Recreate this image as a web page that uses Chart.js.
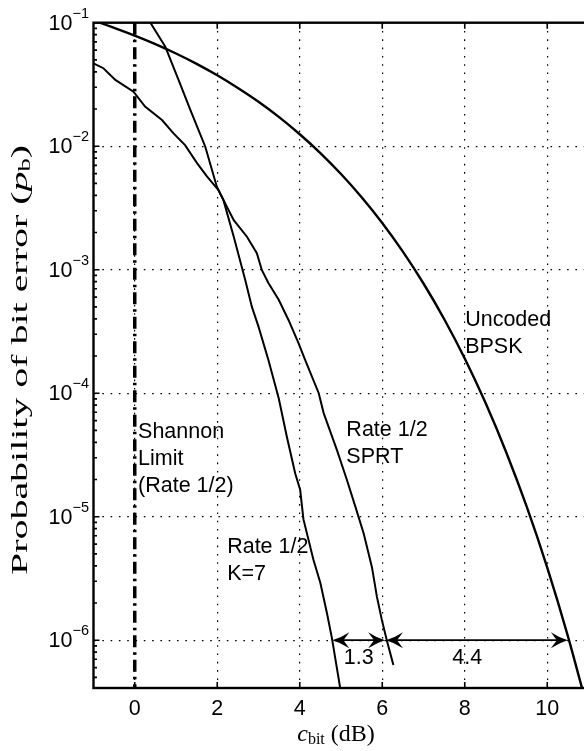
<!DOCTYPE html>
<html>
<head>
<meta charset="utf-8">
<script src="https://cdn.jsdelivr.net/npm/chart.js@4.4.1/dist/chart.umd.min.js"></script>
<style>
  html, body { margin: 0; padding: 0; background: #fff; overflow: hidden; }
  #wrap { position: relative; width: 600px; height: 751px; }
</style>
</head>
<body>
<div id="wrap"><canvas id="chart" width="600" height="751"></canvas></div>
<script>
// tick values
const xTicks = [0, 2, 4, 6, 8, 10];
const yTicks = [1e-6, 1e-5, 1e-4, 1e-3, 1e-2, 1e-1];

// uncoded BPSK (dB, Pb)
const bpskX = [-1, -0.5, 0, 0.5, 1, 1.5, 2, 2.5, 3, 3.5, 4, 4.5, 5, 5.5, 6, 6.5, 7, 7.5, 8, 8.5, 9, 9.5, 10, 10.5, 11];
const bpskY = [0.104, 0.0909, 0.0786, 0.0671, 0.0563, 0.0464, 0.0375, 0.0296, 0.0229, 0.0172, 0.0125, 0.0088, 0.00595, 0.00386,
  0.00239, 0.0014, 7.73e-4, 3.99e-4, 1.91e-4, 8.4e-5, 3.36e-5, 1.21e-5, 3.87e-6, 1.08e-6, 2.6e-7];

// rate 1/2, K=7
const k7X = [0.38, 0.74, 1.10, 1.35, 1.71, 1.99, 2.15, 2.40, 2.68, 2.84, 3.00, 3.24, 3.49, 3.69, 3.89, 4.01, 4.09, 4.33, 4.50, 4.66, 4.78, 4.98];
const k7Y = [0.1, 0.064, 0.032, 0.0196, 9.9e-3, 4.7e-3, 3.66e-3, 1.85e-3, 8.2e-4, 5.0e-4, 3.46e-4, 1.86e-4, 9.1e-5, 4.4e-5,
  2.24e-5, 1.65e-5, 9.5e-6, 4.5e-6, 2.9e-6, 1.65e-6, 1.04e-6, 4.1e-7];

// rate 1/2, SPRT
const sprtX = [-1, -0.76, -0.47, -0.03, 0.25, 0.66, 0.94, 1.22, 1.51, 1.75, 2.03, 2.40, 2.72, 2.96, 3.08, 3.24, 3.49, 3.73, 3.97,
  4.13, 4.46, 4.58, 4.90, 5.14, 5.35, 5.55, 5.75, 5.87, 5.99, 6.11, 6.27];
const sprtY = [0.0469, 0.0428, 0.0344, 0.0276, 0.0209, 0.0163, 0.0127, 0.0102, 7.3e-3, 5.7e-3, 4.4e-3, 2.52e-3, 1.85e-3, 1.36e-3,
  9.95e-4, 7.8e-4, 5.7e-4, 3.9e-4, 2.54e-4, 1.86e-4, 1.0e-4, 6.9e-5, 3.47e-5, 2.0e-5, 1.2e-5, 7.3e-6, 3.9e-6, 2.25e-6, 1.46e-6,
  1.0e-6, 6.3e-7];

// Shannon limit (rate 1/2)
const shannonX = [0, 0];
const shannonY = [0.1, 4.1e-7];

// gap arrows at Pb = 1e-6
const arrowLevel = 1e-6;
const arrowFrom = [4.79, 6.09];
const arrowTo = [6.07, 10.5];
const arrowLabels = ['1.3', '4.4'];

const yMin = 4.1e-7, yMax = 0.1;
const xMin = -1, xMax = 11;

const pts = (xs, ys) => xs.map((v, i) => ({ x: v, y: ys[i] }));

const SANS = '"Liberation Sans", Arial, sans-serif';
const SERIF = '"Liberation Serif", "Times New Roman", serif';

function arrowHead(ctx, tipX, tipY, dir) {
  // dir = -1 points left, +1 points right
  const L = 17, W = 8;
  ctx.beginPath();
  ctx.moveTo(tipX, tipY);
  ctx.quadraticCurveTo(tipX - dir * L * 0.5, tipY - W * 0.3, tipX - dir * L, tipY - W);
  ctx.lineTo(tipX - dir * L * 0.65, tipY);
  ctx.lineTo(tipX - dir * L, tipY + W);
  ctx.quadraticCurveTo(tipX - dir * L * 0.5, tipY + W * 0.3, tipX, tipY);
  ctx.closePath();
  ctx.fill();
}

// draw a run of text pieces centred on (cx, cy), widened to `span` px if given
function drawPieces(ctx, pieces, cx, cy, span) {
  let total = 0;
  pieces.forEach(p => { ctx.font = p.font; p.w = ctx.measureText(p.t).width; total += p.w; });
  const k = span ? span / total : 1;
  ctx.save();
  ctx.translate(cx, cy);
  ctx.scale(k, 1);
  let xx = -total / 2;
  pieces.forEach(p => {
    ctx.font = p.font;
    ctx.fillText(p.t, xx, p.dy || 0);
    xx += p.w;
  });
  ctx.restore();
}

const decor = {
  id: 'decor',
  afterDraw(chart) {
    const { ctx, chartArea: a, scales: { x, y } } = chart;
    ctx.save();
    ctx.strokeStyle = '#000';
    ctx.fillStyle = '#000';

    // frame
    ctx.lineWidth = 2.4;
    ctx.strokeRect(a.left, a.top, a.right - a.left, a.bottom - a.top);

    // inward tick marks
    ctx.lineWidth = 1.6;
    ctx.beginPath();
    xTicks.forEach(v => {
      const px = x.getPixelForValue(v);
      ctx.moveTo(px, a.bottom); ctx.lineTo(px, a.bottom - 6);
      ctx.moveTo(px, a.top); ctx.lineTo(px, a.top + 6);
    });
    yTicks.forEach(v => {
      const py = y.getPixelForValue(v);
      ctx.moveTo(a.left, py); ctx.lineTo(a.left + 6, py);
    });
    for (let e = -7; e < -1; e++) {
      for (let k = 2; k < 10; k++) {
        const v = k * Math.pow(10, e);
        if (v < yMin || v > yMax) continue;
        const py = y.getPixelForValue(v);
        ctx.moveTo(a.left, py); ctx.lineTo(a.left + 3.5, py);
      }
    }
    ctx.stroke();

    // x tick labels
    ctx.font = '21.5px ' + SANS;
    ctx.textAlign = 'center';
    ctx.textBaseline = 'middle';
    xTicks.forEach(v => ctx.fillText(String(v), x.getPixelForValue(v), a.bottom + 21));

    // y tick labels 10^n
    yTicks.forEach(v => {
      const py = y.getPixelForValue(v);
      const ex = Math.round(Math.log10(v));
      ctx.font = '21.5px ' + SANS;
      ctx.textAlign = 'right';
      ctx.fillText('10', a.left - 21, py + 1);
      ctx.font = '14.5px ' + SANS;
      ctx.textAlign = 'left';
      ctx.fillText('\u2212' + Math.abs(ex), a.left - 21, py - 9);
    });

    // gap arrows
    const ay = y.getPixelForValue(arrowLevel);
    ctx.lineWidth = 1.7;
    arrowFrom.forEach((f, i) => {
      const x0 = x.getPixelForValue(f), x1 = x.getPixelForValue(arrowTo[i]);
      ctx.beginPath();
      ctx.moveTo(x0 + 6, ay); ctx.lineTo(x1 - 6, ay);
      ctx.stroke();
      arrowHead(ctx, x0, ay, -1);
      arrowHead(ctx, x1, ay, 1);
    });
    ctx.font = '21.5px ' + SANS;
    ctx.textAlign = 'center';
    ctx.fillText(arrowLabels[0], x.getPixelForValue(5.43), y.getPixelForValue(7.1e-7));
    ctx.fillText(arrowLabels[1], x.getPixelForValue(8.06), y.getPixelForValue(7.1e-7));

    // curve annotations
    ctx.textAlign = 'left';
    const note = (lines, xv, yv) => {
      const px = x.getPixelForValue(xv), py = y.getPixelForValue(yv);
      lines.forEach((t, i) => ctx.fillText(t, px, py + i * 27));
    };
    note(['Shannon', 'Limit', '(Rate 1/2)'], 0.08, 4.85e-5);
    note(['Rate 1/2', 'K=7'], 2.24, 5.7e-6);
    note(['Rate 1/2', 'SPRT'], 5.13, 5.0e-5);
    note(['Uncoded', 'BPSK'], 8.01, 3.9e-4);

    // axis titles
    ctx.textAlign = 'left';
    drawPieces(ctx, [
      { t: 'c', font: 'italic 24px ' + SERIF },
      { t: 'bit', font: '16px ' + SERIF, dy: 5 },
      { t: ' (dB)', font: '24px ' + SERIF }
    ], 336, 735);

    ctx.translate(21, 360);
    ctx.rotate(-Math.PI / 2);
    drawPieces(ctx, [
      { t: 'Probability of bit error (', font: '24px ' + SERIF },
      { t: 'p', font: 'italic 24px ' + SERIF },
      { t: 'b', font: '16px ' + SERIF, dy: 5 },
      { t: ')', font: '24px ' + SERIF }
    ], 0, 0, 430);

    ctx.restore();
  }
};

const lineStyle = { borderColor: '#000', pointRadius: 0, fill: false, tension: 0 };

new Chart(document.getElementById('chart'), {
  type: 'line',
  data: {
    datasets: [
      { label: 'Uncoded BPSK', data: pts(bpskX, bpskY), ...lineStyle, borderWidth: 2.4, cubicInterpolationMode: 'monotone' },
      { label: 'Rate 1/2 K=7', data: pts(k7X, k7Y), ...lineStyle, borderWidth: 2 },
      { label: 'Rate 1/2 SPRT', data: pts(sprtX, sprtY), ...lineStyle, borderWidth: 2 },
      { label: 'Shannon Limit', data: pts(shannonX, shannonY), ...lineStyle, borderWidth: 3.5, borderDash: [12, 5, 2.5, 5] }
    ]
  },
  options: {
    responsive: false,
    devicePixelRatio: 1,
    animation: false,
    layout: { padding: { left: 93.5, top: 22.7, right: 11.5, bottom: 63 } },
    plugins: { legend: { display: false }, tooltip: { enabled: false } },
    scales: {
      x: {
        type: 'linear', min: xMin, max: xMax,
        afterBuildTicks: s => { s.ticks = xTicks.map(v => ({ value: v })); },
        ticks: { display: false },
        grid: { color: '#000', lineWidth: 1.2, drawTicks: false, tickLength: 0 },
        border: { display: false, dash: [1.6, 6.7] }
      },
      y: {
        type: 'logarithmic', min: yMin, max: yMax,
        afterBuildTicks: s => { s.ticks = yTicks.map(v => ({ value: v })); },
        ticks: { display: false },
        grid: { color: '#000', lineWidth: 1.2, drawTicks: false, tickLength: 0 },
        border: { display: false, dash: [1.6, 6.7] }
      }
    }
  },
  plugins: [decor]
});
</script>
</body>
</html>
